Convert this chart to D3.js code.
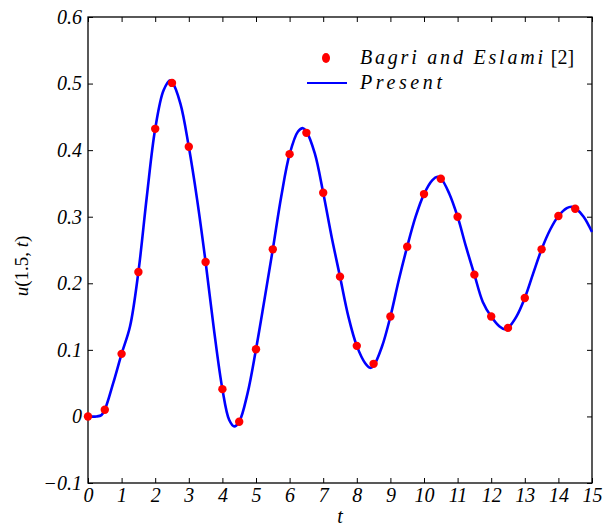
<!DOCTYPE html>
<html>
<head>
<meta charset="utf-8">
<script src="https://cdn.jsdelivr.net/npm/d3@7"></script>
<style>
  body { margin: 0; background: #fff; }
  text { font-family: "Liberation Serif", "DejaVu Serif", serif; }
</style>
</head>
<body>
<svg id="chart" width="604" height="529"></svg>
<script>
// reference points (Bagri and Eslami [2])
let refT = [0, 0.5, 1, 1.5, 2, 2.5, 3, 3.5, 4, 4.5, 5, 5.5, 6, 6.5, 7, 7.5, 8, 8.5, 9, 9.5,
            10, 10.5, 11, 11.5, 12, 12.5, 13, 13.5, 14, 14.5];
let refU = [0, 0.010, 0.094, 0.217, 0.432, 0.501, 0.405, 0.232, 0.041, -0.008, 0.101, 0.251, 0.394, 0.426,
            0.336, 0.210, 0.106, 0.079, 0.150, 0.255, 0.334, 0.357, 0.300, 0.213, 0.150, 0.133, 0.178,
            0.251, 0.301, 0.312];

// present solution
let curveT = [0, 0.25, 0.4, 0.5, 0.75, 1, 1.25, 1.5, 1.75, 2, 2.25, 2.45, 2.5, 2.75, 3, 3.25, 3.5, 3.75, 4,
              4.2, 4.35, 4.5, 4.75, 5, 5.25, 5.5, 5.75, 6, 6.25, 6.4, 6.5, 6.75, 7, 7.25, 7.5, 7.75, 8,
              8.25, 8.4, 8.5, 8.75, 9, 9.25, 9.5, 9.75, 10, 10.25, 10.4, 10.5, 10.75, 11, 11.25, 11.5,
              11.75, 12, 12.25, 12.4, 12.5, 12.75, 13, 13.25, 13.5, 13.75, 14, 14.25, 14.4, 14.5, 14.75, 15];
let curveU = [0, 0.0, 0.002, 0.010, 0.05, 0.094, 0.135, 0.217, 0.33, 0.432, 0.49, 0.505, 0.503, 0.47, 0.405,
              0.325, 0.232, 0.13, 0.041, -0.005, -0.015, -0.008, 0.035, 0.101, 0.175, 0.251, 0.33, 0.394,
              0.428, 0.433, 0.428, 0.395, 0.336, 0.27, 0.210, 0.15, 0.106, 0.080, 0.073, 0.076, 0.105,
              0.150, 0.205, 0.255, 0.300, 0.334, 0.355, 0.360, 0.358, 0.335, 0.300, 0.255, 0.213, 0.172,
              0.150, 0.135, 0.131, 0.133, 0.15, 0.178, 0.215, 0.251, 0.28, 0.301, 0.313, 0.315, 0.313,
              0.300, 0.277];

let xTicks = d3.range(0, 16, 1);
let yTicks = [-0.1, 0, 0.1, 0.2, 0.3, 0.4, 0.5, 0.6];
let legendLabels = ["Bagri and Eslami", "Present"];

let svg = d3.select("#chart");
let plotLeft = 88, plotRight = 592, plotTop = 17, plotBottom = 483;

let x = d3.scaleLinear().domain([0, 15]).range([plotLeft, plotRight]);
let y = d3.scaleLinear().domain([-0.1, 0.6]).range([plotBottom, plotTop]);

let fmtY = d => d == 0 ? "0" : (d < 0 ? "\u2212" + Math.abs(d).toFixed(1) : d.toFixed(1));

let styleAxis = (g) => {
    g.select(".domain").remove();
    g.selectAll(".tick line").attr("stroke", "#000").attr("stroke-width", 1);
    g.selectAll(".tick text").attr("font-size", 20).attr("font-style", "italic").attr("fill", "#000");
};

svg.append("g")
    .attr("transform", `translate(0,${plotBottom})`)
    .call(d3.axisBottom(x).tickValues(xTicks).tickFormat(d3.format("d")).tickSizeInner(-5).tickSizeOuter(0).tickPadding(5))
    .call(styleAxis);

svg.append("g")
    .attr("transform", `translate(${plotLeft},0)`)
    .call(d3.axisLeft(y).tickValues(yTicks).tickFormat(fmtY).tickSizeInner(-5).tickSizeOuter(0).tickPadding(6))
    .call(styleAxis);

// top and right ticks without labels
svg.append("g")
    .attr("transform", `translate(0,${plotTop})`)
    .call(d3.axisTop(x).tickValues(xTicks).tickFormat("").tickSizeInner(-5).tickSizeOuter(0))
    .call(styleAxis);

svg.append("g")
    .attr("transform", `translate(${plotRight},0)`)
    .call(d3.axisRight(y).tickValues(yTicks).tickFormat("").tickSizeInner(-5).tickSizeOuter(0))
    .call(styleAxis);

svg.append("rect")
    .attr("x", plotLeft).attr("y", plotTop)
    .attr("width", plotRight - plotLeft).attr("height", plotBottom - plotTop)
    .attr("fill", "none").attr("stroke", "#000").attr("stroke-width", 1.3);

let line = d3.line().x(d => x(d[0])).y(d => y(d[1])).curve(d3.curveCatmullRom.alpha(0.5));

svg.append("path")
    .attr("d", line(curveT.map((t, i) => [t, curveU[i]])))
    .attr("fill", "none")
    .attr("stroke", "#0000ff")
    .attr("stroke-width", 2.6);

svg.selectAll(".refdot")
    .data(refT.map((t, i) => [t, refU[i]]))
    .join("circle")
    .attr("class", "refdot")
    .attr("cx", d => x(d[0]))
    .attr("cy", d => y(d[1]))
    .attr("r", 4.2)
    .attr("fill", "#ff0000");

// axis labels
svg.append("text")
    .attr("x", 340).attr("y", 523)
    .attr("text-anchor", "middle")
    .attr("font-size", 20).attr("font-style", "italic")
    .text("t");

let ylab = svg.append("text")
    .attr("transform", "translate(28,266) rotate(-90)")
    .attr("text-anchor", "middle")
    .attr("font-size", 19);
ylab.append("tspan").attr("font-style", "italic").text("u");
ylab.append("tspan").text("(1.5, ");
ylab.append("tspan").attr("font-style", "italic").text("t");
ylab.append("tspan").text(")");

// legend
svg.append("ellipse")
    .attr("cx", 326).attr("cy", 58).attr("rx", 4).attr("ry", 5)
    .attr("fill", "#ff0000");
svg.append("line")
    .attr("x1", 307).attr("x2", 347).attr("y1", 83).attr("y2", 83)
    .attr("stroke", "#0000ff").attr("stroke-width", 2);

let l1 = svg.append("text").attr("x", 360).attr("y", 64).attr("font-size", 20);
l1.append("tspan").attr("font-style", "italic").attr("textLength", 183).text(legendLabels[0]);
l1.append("tspan").attr("dx", 5).text("[2]");

svg.append("text").attr("x", 360).attr("y", 89).attr("font-size", 20)
    .attr("font-style", "italic").attr("textLength", 82).text(legendLabels[1]);
</script>
</body>
</html>
